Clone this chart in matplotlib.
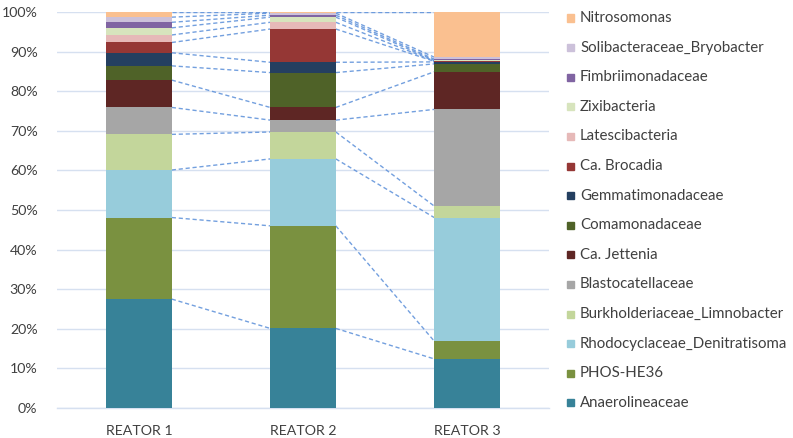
import numpy as np
import matplotlib
matplotlib.use("Agg")
import matplotlib.pyplot as plt
from matplotlib.patches import Rectangle
from matplotlib.ticker import PercentFormatter

reactors = ["REATOR 1", "REATOR 2", "REATOR 3"]

# taxa from bottom of the stack to top
taxa = [
    "Anaerolineaceae",
    "PHOS-HE36",
    "Rhodocyclaceae_Denitratisoma",
    "Burkholderiaceae_Limnobacter",
    "Blastocatellaceae",
    "Ca. Jettenia",
    "Comamonadaceae",
    "Gemmatimonadaceae",
    "Ca. Brocadia",
    "Latescibacteria",
    "Zixibacteria",
    "Fimbriimonadaceae",
    "Solibacteraceae_Bryobacter",
    "Nitrosomonas",
]

# relative abundance (%) per reactor, same order as taxa
reator1 = [27.5, 20.6, 12.0, 9.0, 6.8, 6.9, 3.6, 3.3, 2.6, 1.9, 1.8, 1.4, 1.3, 1.3]
reator2 = [20.1, 25.9, 16.9, 6.8, 3.0, 3.2, 8.8, 2.6, 8.4, 1.7, 1.3, 0.5, 0.5, 0.3]
reator3 = [12.4, 4.5, 31.2, 2.9, 24.4, 9.5, 2.0, 0.5, 0.15, 0.1, 0.15, 0.3, 0.5, 11.4]

colors = [
    "#378298", "#7A9140", "#97CCDB", "#C3D69B", "#A6A6A6", "#5E2624",
    "#4F6228", "#243F60", "#953735", "#E6B9B8", "#D7E4BD", "#8064A2",
    "#CCC1DA", "#FAC090",
]

plt.rcParams["font.family"] = ["Lato", "DejaVu Sans"]

W, H = 793, 438
fig = plt.figure(figsize=(W / 100, H / 100), dpi=100)
ax = fig.add_axes([57 / W, (H - 408) / H, (549 - 57) / W, (408 - 12) / H])

data = np.array([reator1, reator2, reator3])  # shape (3, 14)
x = np.arange(len(reactors))
bw = 0.40
bottoms = np.zeros(len(reactors))
for j, name in enumerate(taxa):
    vals = data[:, j]
    ax.bar(x, vals, bw, bottom=bottoms, color=colors[j], edgecolor="none",
           zorder=3, label=name)
    bottoms = bottoms + vals

# dashed series lines joining the top of each segment between neighbouring bars
tops = np.cumsum(data, axis=1)
for j in range(len(taxa)):
    for i in range(len(reactors) - 1):
        ax.plot([x[i] + bw / 2, x[i + 1] - bw / 2], [tops[i, j], tops[i + 1, j]],
                ls=(0, (3, 2)), lw=1.0, color="#5B8FD9", alpha=0.85, zorder=2)

ax.set_xlim(-0.5, 2.5)
ax.set_ylim(0, 100)
ax.set_yticks(np.arange(0, 101, 10))
ax.yaxis.set_major_formatter(PercentFormatter(decimals=0))
ax.set_xticks(x)
ax.set_xticklabels(reactors)
ax.grid(axis="y", color="#D6E0F0", lw=1.0, zorder=0)
for s in ["top", "right", "left"]:
    ax.spines[s].set_visible(False)
ax.spines["bottom"].set_color("#D6E0F0")
ax.spines["bottom"].set_linewidth(1.0)
ax.tick_params(axis="both", length=0, labelsize=10.2, colors="#404040")
ax.tick_params(axis="y", pad=14)
ax.tick_params(axis="x", pad=12)

# legend, top entry = top of the stack
for k, j in enumerate(range(len(taxa) - 1, -1, -1)):
    yc = 18 + 29.6 * k
    fig.patches.append(Rectangle((567 / W, 1 - (yc + 3.5) / H), 7 / W, 7 / H,
                                 transform=fig.transFigure, color=colors[j]))
    fig.text(580 / W, 1 - yc / H, taxa[j], fontsize=10.8, color="#404040",
             va="center", ha="left")

fig.savefig("out.png", dpi=100)
